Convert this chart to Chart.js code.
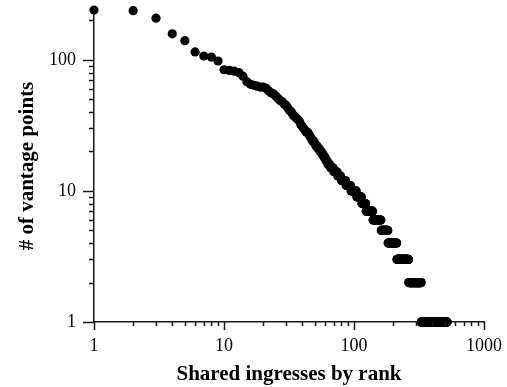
<!DOCTYPE html>
<html>
<head>
<meta charset="utf-8">
<title>Shared ingresses by rank</title>
<script src="https://cdn.jsdelivr.net/npm/chart.js@4/dist/chart.umd.min.js"></script>
<style>
  html, body { margin: 0; padding: 0; background: #fff; }
  canvas { display: block; }
</style>
</head>
<body>
<canvas id="chart" width="507" height="387"></canvas>
<script>
// Vantage-point counts for the top-ranked shared ingresses (ranks 1..40).
const headCounts = [240, 237, 208, 158, 140, 115, 107, 105, 98, 84,
                    83, 82, 80, 75, 68, 65, 64, 63, 62, 62,
                    61, 58, 56, 55, 53, 51, 49, 48, 46, 45,
                    43, 41, 40, 38, 37, 36, 35, 34, 32, 31];

// Remaining ranks: each count level and the last rank that has it.
const tailCounts   = [30, 29, 28, 27, 26, 25, 24, 23, 22, 21, 20, 19, 18, 17, 16,
                      15, 14, 13, 12, 11, 10, 9, 8, 7, 6, 5, 4, 3, 2, 1];
const tailLastRank = [41, 42, 44, 45, 46, 47, 49, 50, 52, 54, 56, 58, 60, 62, 65,
                      69, 74, 79, 86, 94, 104, 114, 123, 139, 161, 182, 213, 263, 328, 520];

const xTickLabels = ['1', '10', '100', '1000'];
const yTickLabels = ['1', '10', '100'];

// Build (rank, count) points.
const points = [];
headCounts.forEach((v, i) => points.push({ x: i + 1, y: v }));
let rank = headCounts.length + 1;
tailCounts.forEach((v, i) => {
  for (; rank <= tailLastRank[i]; rank++) points.push({ x: rank, y: v });
});

const axisColor = '#1a1a1a';
const serif = '"Liberation Serif", "Times New Roman", serif';

function isDecade(v) {
  const l = Math.log10(v);
  return Math.abs(l - Math.round(l)) < 1e-9;
}
function isStep(v) {
  const m = v / Math.pow(10, Math.floor(Math.log10(v) + 1e-12));
  return Math.abs(m - Math.round(m)) < 1e-9;
}
function labelFor(list) {
  return (value) => {
    const hit = list.find(s => Math.abs(Number(s) - value) < 1e-6);
    return hit === undefined ? '' : hit;
  };
}
// Fixed scale thickness, no extra label overhang padding.
function fixSize(prop, size) {
  return (s) => {
    s[prop] = size;
    s.paddingTop = s.paddingBottom = s.paddingLeft = s.paddingRight = 0;
  };
}

// Outward tick marks: long at decades, short at 2..9 steps.
const tickMarks = {
  id: 'tickMarks',
  afterDraw(chart) {
    const { ctx } = chart;
    const xs = chart.scales.x, ys = chart.scales.y;
    ctx.save();
    ctx.strokeStyle = axisColor;
    ctx.lineWidth = 1.5;
    ctx.beginPath();
    xs.ticks.forEach(t => {
      if (!isStep(t.value)) return;
      const px = Math.round(xs.getPixelForValue(t.value)) + 0.5;
      const len = isDecade(t.value) ? 8 : 4;
      ctx.moveTo(px, xs.top);
      ctx.lineTo(px, xs.top + len);
    });
    ys.ticks.forEach(t => {
      if (!isStep(t.value)) return;
      const py = Math.round(ys.getPixelForValue(t.value)) + 0.5;
      const len = isDecade(t.value) ? 11 : 5;
      ctx.moveTo(ys.right, py);
      ctx.lineTo(ys.right - len, py);
    });
    ctx.stroke();
    ctx.restore();
  }
};

new Chart(document.getElementById('chart'), {
  type: 'scatter',
  data: {
    datasets: [{
      data: points,
      backgroundColor: '#000',
      borderWidth: 0,
      pointRadius: 4.6,
      pointHoverRadius: 4.6,
      clip: false
    }]
  },
  options: {
    responsive: false,
    animation: false,
    devicePixelRatio: 1,
    layout: { padding: { left: 0, top: 10, right: 23, bottom: 0 } },
    plugins: { legend: { display: false }, tooltip: { enabled: false } },
    scales: {
      x: {
        type: 'logarithmic',
        min: 1,
        max: 1000,
        afterFit: fixSize('height', 65),
        grid: { display: false, drawTicks: false },
        border: { display: true, color: axisColor, width: 1.5 },
        ticks: {
          autoSkip: false,
          maxRotation: 0,
          padding: 13,
          color: '#000',
          font: { family: serif, size: 18 },
          callback: labelFor(xTickLabels)
        },
        title: {
          display: true,
          text: 'Shared ingresses by rank',
          color: '#000',
          font: { family: serif, size: 21, weight: 'bold' },
          padding: { top: 0, bottom: 0 }
        }
      },
      y: {
        type: 'logarithmic',
        min: 1,
        max: 240,
        afterFit: fixSize('width', 94),
        grid: { display: false, drawTicks: false },
        border: { display: true, color: axisColor, width: 1.5 },
        ticks: {
          autoSkip: false,
          padding: 18,
          color: '#000',
          font: { family: serif, size: 18 },
          callback: labelFor(yTickLabels)
        },
        title: {
          display: true,
          text: '# of vantage points',
          color: '#000',
          font: { family: serif, size: 21, weight: 'bold' },
          padding: { top: 15, bottom: 0 }
        }
      }
    }
  },
  plugins: [tickMarks]
});
</script>
</body>
</html>
